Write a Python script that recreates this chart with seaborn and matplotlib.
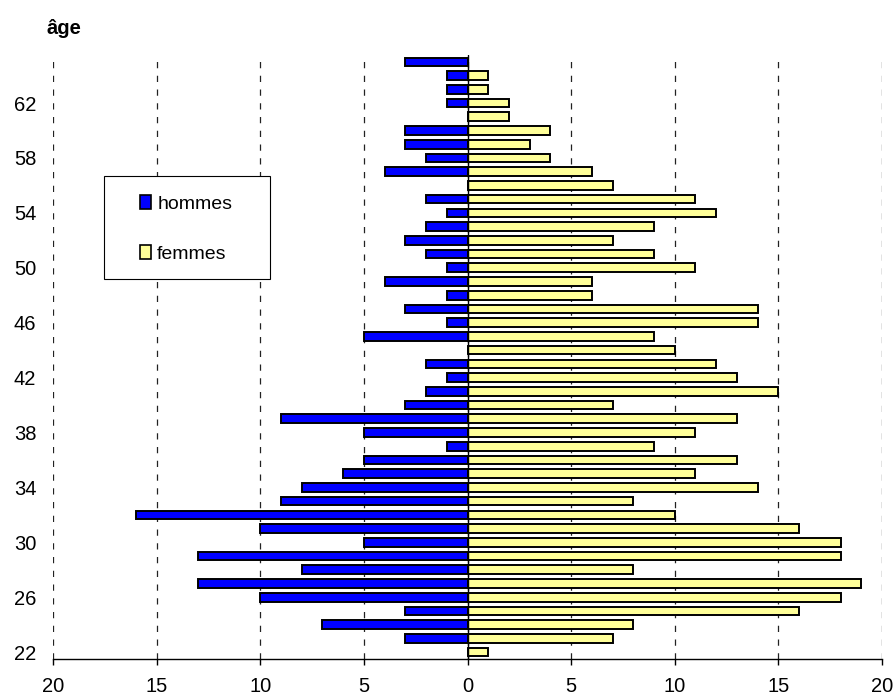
import pandas as pd
import seaborn as sns
import matplotlib.pyplot as plt
from matplotlib.patches import Patch, Rectangle

# effectifs par âge (22 à 65 ans)
ages = list(range(22, 66))
hommes = [0, 3, 7, 3, 10, 13, 8, 13, 5, 10, 16, 9, 8, 6, 5, 1, 5, 9, 3, 2, 1, 2,
          0, 5, 1, 3, 1, 4, 1, 2, 3, 2, 1, 2, 0, 4, 2, 3, 3, 0, 1, 1, 1, 3]
femmes = [1, 7, 8, 16, 18, 19, 8, 18, 18, 16, 10, 8, 14, 11, 13, 9, 11, 13, 7, 15, 13, 12,
          10, 9, 14, 14, 6, 6, 11, 9, 7, 9, 12, 11, 7, 6, 4, 3, 4, 2, 2, 1, 1, 0]
yticks = list(range(22, 63, 4))
xticks = list(range(-20, 21, 5))
colors = {'hommes': '#0000FF', 'femmes': '#FFFF99'}

df = pd.DataFrame({
    'age': ages + ages,
    'effectif': [-h for h in hommes] + femmes,
    'sexe': ['hommes'] * len(ages) + ['femmes'] * len(ages),
})

sns.set_style('white', {'text.color': 'black', 'xtick.color': 'black',
                        'ytick.color': 'black', 'axes.labelcolor': 'black'})
plt.rcParams['font.family'] = ['Liberation Sans', 'DejaVu Sans']

fig = plt.figure(figsize=(8.96, 7.0), dpi=100)
ax = fig.add_axes([53 / 896, 1 - 659 / 700, (882 - 53) / 896, (659 - 55) / 700])

sns.barplot(data=df, x='effectif', y='age', hue='sexe', orient='h', native_scale=True,
            dodge=False, palette=colors, saturation=1, edgecolor='black', linewidth=1.4,
            width=0.63, errorbar=None, legend=False, ax=ax)

ax.set_xlim(-20, 20)
ax.set_ylim(21.5, 65.5)
ax.set_axisbelow(True)
ax.grid(axis='x', color='#222222', linestyle=(0, (5, 6)), linewidth=0.9)
ax.grid(axis='y', visible=False)
ax.axvline(0, color='black', linewidth=1.0)

ax.set_xticks(xticks)
ax.set_xticklabels([str(abs(t)) for t in xticks])
ax.set_yticks(yticks)
ax.set_yticklabels([str(t) for t in yticks])
ax.tick_params(axis='x', direction='out', length=4, width=1, color='black',
               labelcolor='black', labelsize=14.5, pad=9, bottom=True)
ax.tick_params(axis='y', length=0, labelcolor='black', labelsize=14.5, pad=12)
ax.set_xlabel('')
ax.set_ylabel('')
for side in ['top', 'right', 'left']:
    ax.spines[side].set_visible(False)
ax.spines['bottom'].set_color('black')
ax.spines['bottom'].set_linewidth(1.0)

fig.text(46 / 896, 1 - 28 / 700, 'âge', fontweight='bold', fontsize=14.5,
         color='black', ha='left', va='center')

# légende encadrée
fig.patches.append(Rectangle((104 / 896, 1 - 279 / 700), 166 / 896, 103 / 700,
                             transform=fig.transFigure, facecolor='white',
                             edgecolor='black', linewidth=0.8, zorder=5))
handles = [Patch(facecolor=colors[k], edgecolor='black', linewidth=1.2) for k in ['hommes', 'femmes']]
leg = fig.legend(handles, ['hommes', 'femmes'], loc='upper left',
                 bbox_to_anchor=(130 / 896, 1 - 185 / 700), frameon=False,
                 fontsize=14, borderpad=0, handlelength=0.6, handleheight=0.75,
                 handletextpad=0.3, labelspacing=1.65, labelcolor='black')
leg.set_zorder(6)

fig.savefig('out.png', dpi=100)
